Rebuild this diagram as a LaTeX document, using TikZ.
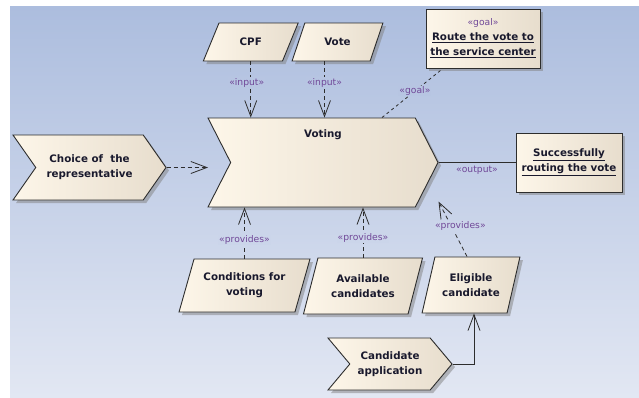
\documentclass[tikz,border=0pt]{standalone}
\usepackage{fontspec}
\setmainfont{DejaVu Sans}
\usetikzlibrary{shapes.geometric,shapes.symbols,shadows,arrows.meta,positioning}

\definecolor{bgtop}{RGB}{172,189,222}
\definecolor{bgbot}{RGB}{226,231,243}
\definecolor{boxl}{RGB}{253,246,233}
\definecolor{boxr}{RGB}{231,221,205}
\definecolor{edgecol}{RGB}{45,45,45}
\definecolor{stcol}{RGB}{112,72,152}
\definecolor{ink}{RGB}{25,25,45}
\colorlet{lbltop}{bgtop!80!bgbot}
\colorlet{lblbot}{bgtop!42!bgbot}

\begin{document}
\begin{tikzpicture}[x=1pt,y=-1pt,
    ttl/.style={font=\fontsize{10.3}{15}\selectfont\bfseries, text=ink},
    elem/.style={ttl, draw=edgecol, line width=0.9pt, left color=boxl, right color=boxr,
      drop shadow={shadow xshift=3pt, shadow yshift=-3pt, fill=black!50, opacity=0.5},
      align=center, inner sep=0pt},
    proc/.style={elem, shape=signal, signal from=west, signal to=east},
    dataobj/.style={elem, trapezium, trapezium stretches=true},
    notebox/.style={elem, rectangle},
    stereo/.style={font=\fontsize{9.2}{10}\selectfont, text=stcol, inner sep=1pt},
    dep/.style={draw=edgecol, line width=0.8pt, dash pattern=on 4pt off 3pt,
      -{Straight Barb[length=16pt,width=12pt]}},
    link/.style={draw=edgecol, line width=0.8pt}]

  \useasboundingbox (0,0) rectangle (639,397);
  \fill[top color=bgtop, bottom color=bgbot] (10,6) rectangle (639,397);

  \node[proc, minimum width=230pt, minimum height=89pt, signal pointer angle=126,
    label={[ttl, anchor=north, yshift=-9pt]north:Voting}] (vot) at (323,162.5) {};
  \node[proc, minimum width=153pt, minimum height=65pt, signal pointer angle=110] (choice)
    at (89.5,167.5) {Choice of\ \ the\\representative};
  \node[proc, minimum width=124pt, minimum height=52pt, signal pointer angle=100] (cand)
    at (390,364) {Candidate\\application};

  \node[dataobj, minimum width=95pt, minimum height=38pt,
    trapezium left angle=55, trapezium right angle=125] (cpf) at (250.75,42) {CPF};
  \node[dataobj, minimum width=91pt, minimum height=38pt,
    trapezium left angle=56, trapezium right angle=124] (vote) at (337.5,42) {Vote};
  \node[dataobj, minimum width=131pt, minimum height=53pt,
    trapezium left angle=64, trapezium right angle=116] (cond) at (244.5,285.5) {Conditions for\\voting};
  \node[dataobj, minimum width=120pt, minimum height=56pt,
    trapezium left angle=66, trapezium right angle=114] (avail) at (363,286) {Available\\candidates};
  \node[dataobj, minimum width=98pt, minimum height=56pt,
    trapezium left angle=66, trapezium right angle=114] (elig) at (471,285) {Eligible\\candidate};

  \node[notebox, minimum width=114pt, minimum height=59pt] (goal) at (483,38.5)
    {{\mdseries\color{stcol}\fontsize{9.2}{15}\selectfont «goal»}\\\underline{Route the vote to}\\\underline{the service center}};
  \node[notebox, minimum width=106pt, minimum height=59pt] (out) at (569,162.5)
    {\underline{Successfully}\\\underline{routing the vote}};

  \coordinate (votin) at (208,167.5);
  \coordinate (votprov) at ([yshift=-39pt]vot.east);

  \draw[dep] (choice.east) -- (votin);
  \draw[dep] (cpf.south) -- (cpf.south |- vot.north)
    node[stereo, fill=lbltop, pos=0.38, xshift=-4pt] {«input»};
  \draw[dep] ([xshift=-13pt]vote.south) -- ([xshift=-13pt]vote.south |- vot.north)
    node[stereo, fill=lbltop, pos=0.38] {«input»};
  \draw[link, dash pattern=on 3pt off 3pt] ([xshift=59pt]vot.north) -- ([xshift=-40pt]goal.south)
    node[stereo, fill=lbltop, pos=0.54] {«goal»};
  \draw[link] (vot.east) -- (out.west) node[stereo, midway, below=2pt] {«output»};
  \draw[dep] (cond.north) -- (cond.north |- vot.south)
    node[stereo, fill=lblbot, pos=0.37] {«provides»};
  \draw[dep] (avail.north) -- (avail.north |- vot.south)
    node[stereo, fill=lblbot, pos=0.39] {«provides»};
  \draw[dep] ([xshift=-4pt]elig.north) -- (votprov)
    node[stereo, fill=lblbot, pos=0.55, xshift=9pt] {«provides»};
  \draw[link, -{Straight Barb[length=16pt,width=12pt]}] (cand.east) -| ([xshift=3pt]elig.south);
\end{tikzpicture}
\end{document}
